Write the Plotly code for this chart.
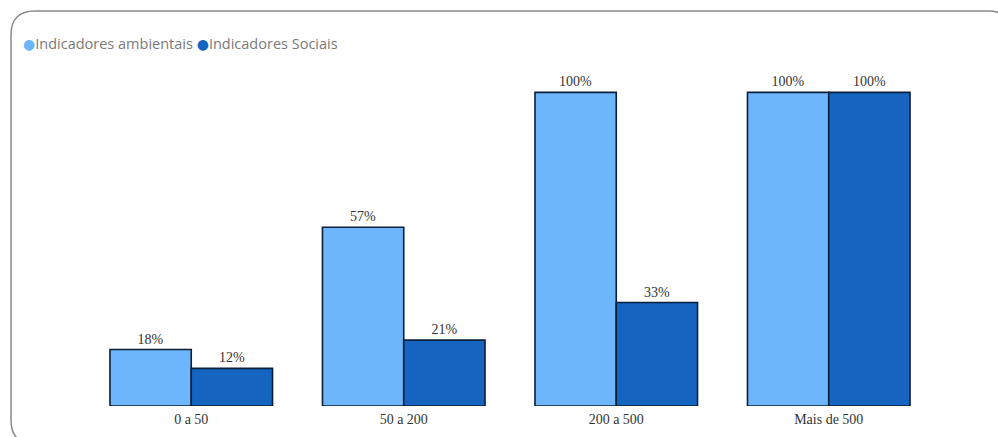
import plotly.graph_objects as go

# Company size bands and the share of companies reporting each indicator type
categories = ["0 a 50", "50 a 200", "200 a 500", "Mais de 500"]
ambientais = [18, 57, 100, 100]
sociais = [12, 21, 33, 100]

series_names = ["Indicadores ambientais", "Indicadores Sociais"]
colors = ["#6db6fb", "#1565c0"]

W, H = 998, 437
M = dict(l=85, r=63, t=61, b=31)
PW = W - M["l"] - M["r"]
PH = H - M["t"] - M["b"]


def px(x, y):
    """Pixel position -> paper coordinates."""
    return (x - M["l"]) / PW, 1 - (y - M["t"]) / PH


fig = go.Figure()
for name, vals, col in zip(series_names, [ambientais, sociais], colors):
    fig.add_trace(go.Bar(
        x=categories, y=vals, name=name,
        marker=dict(color=col, line=dict(color="#0b1f3a", width=1.6)),
        text=[f"{v}%" for v in vals], textposition="outside",
        textfont=dict(family="Liberation Serif", size=14, color="#333333"),
        cliponaxis=False, showlegend=False,
    ))

# compact legend: coloured dot followed by the series name
legend_html = " ".join(
    f"<span style='color:{c}; font-family:DejaVu Sans; font-size:14px'>●</span>"
    f"<span style='font-size:14.5px'>{n}</span>"
    for n, c in zip(series_names, colors)
)
lx, ly = px(21, 44)
fig.add_annotation(text=legend_html, x=lx, y=ly, xref="paper", yref="paper",
                   xanchor="left", yanchor="middle", showarrow=False,
                   font=dict(family="Open Sans", size=14.5, color="#7a7a7a"))

# rounded frame around the chart
x0, y0, x1, y1, r = 11, 11, 1012, 444, 24
pts = {
    "a": px(x0 + r, y0), "b": px(x1 - r, y0), "c": px(x1, y0), "d": px(x1, y0 + r),
    "e": px(x1, y1 - r), "f": px(x1, y1), "g": px(x1 - r, y1), "h": px(x0 + r, y1),
    "i": px(x0, y1), "j": px(x0, y1 - r), "k": px(x0, y0 + r), "l": px(x0, y0),
}
p = lambda k: f"{pts[k][0]:.5f},{pts[k][1]:.5f}"
path = (f"M {p('a')} L {p('b')} Q {p('c')} {p('d')} L {p('e')} Q {p('f')} {p('g')} "
        f"L {p('h')} Q {p('i')} {p('j')} L {p('k')} Q {p('l')} {p('a')} Z")
fig.add_shape(type="path", path=path, xref="paper", yref="paper",
              line=dict(color="#8a8a8a", width=1.5), layer="below")

fig.update_layout(
    width=W, height=H, margin=M,
    paper_bgcolor="white", plot_bgcolor="white",
    barmode="group", bargap=0.235, bargroupgap=0,
    showlegend=False,
    xaxis=dict(showline=False, ticks="", showgrid=False, ticklabelstandoff=3,
               automargin=False,
               tickfont=dict(family="Liberation Serif", size=14, color="#333333")),
    yaxis=dict(range=[0, 110], visible=False, showgrid=False, automargin=False),
)

fig.write_html("out.html")
